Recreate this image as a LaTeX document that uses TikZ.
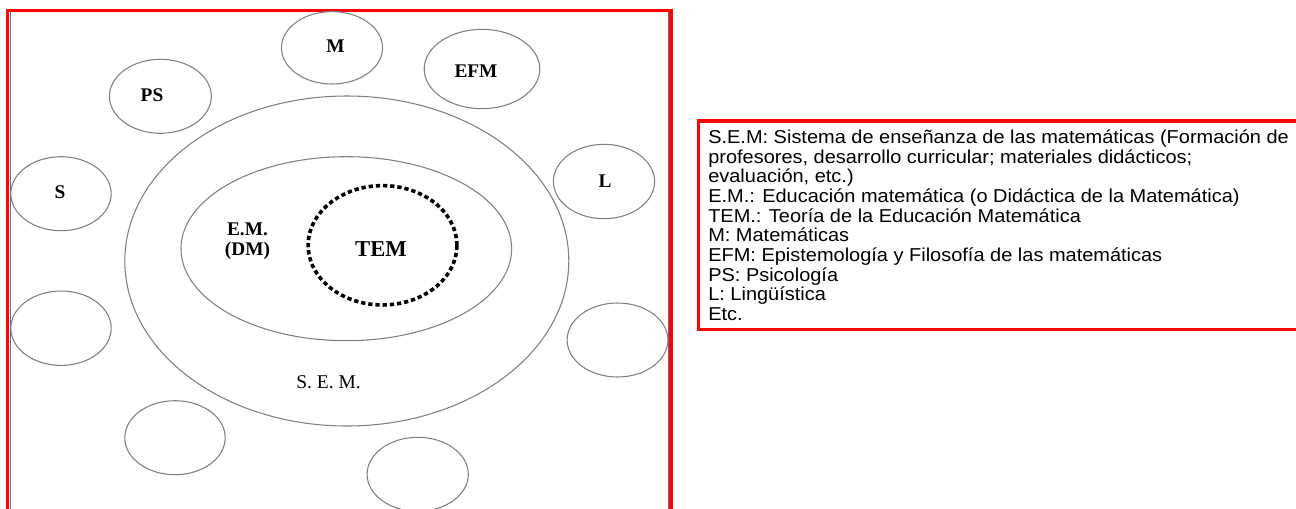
\documentclass[tikz,border=0pt]{standalone}
\usepackage{fontspec}
\setmainfont{Liberation Serif}
\newfontfamily\legendfont[FakeStretch=1.07]{Liberation Sans}
\usetikzlibrary{shapes.geometric}
\begin{document}
\begin{tikzpicture}[x=0.75pt,y=-0.75pt,
  bub/.style={ellipse,draw=black!50,line width=0.8pt,inner sep=0pt},
  lab/.style={inner sep=0pt,font=\fontsize{14.5pt}{14.6pt}\selectfont\bfseries},
  leg/.style={anchor=base west,inner sep=0pt,font=\legendfont\fontsize{14pt}{14.8pt}\selectfont},
  frame/.style={draw=red,line width=2.3pt},
  innerline/.style={draw=blue!40!black!60,line width=0.6pt}]
\useasboundingbox[fill=white] (0,0) rectangle (1296,508);
% frame of the diagram
\draw[frame] (7.7,520) -- (7.7,10.3) -- (671,10.3) -- (671,520);
\draw[innerline] (10.2,12) -- (10.2,520);
\draw[innerline] (668.7,12) -- (668.7,520);
% big ellipses
\node[bub,minimum width=333pt,minimum height=247.5pt] (sem) at (346.8,261) {};
\node[bub,minimum width=248pt,minimum height=138pt] (em) at (346.3,248.7) {};
\node[ellipse,draw=black,line width=2.7pt,dash pattern=on 3.2pt off 2.2pt,inner sep=0pt,
      minimum width=111.5pt,minimum height=89.5pt] (tem) at (382.5,245.3) {};
% surrounding bubbles
\node[bub,minimum width=75.8pt,minimum height=54.3pt] (m) at (332,47.8) {};
\node[bub,minimum width=86.7pt,minimum height=59.5pt] (efm) at (482,69) {};
\node[bub,minimum width=76.4pt,minimum height=55.5pt] (ps) at (160.4,96.3) {};
\node[bub,minimum width=75.3pt,minimum height=55.5pt] (s) at (61,193.7) {};
\node[bub,minimum width=75.9pt,minimum height=55.8pt] (l) at (604,181.5) {};
\node[bub,minimum width=75.3pt,minimum height=55.8pt] (e1) at (61,328.2) {};
\node[bub,minimum width=75.6pt,minimum height=55.5pt] (e2) at (617.5,340) {};
\node[bub,minimum width=75.3pt,minimum height=55.5pt] (b1) at (175,437.7) {};
\node[bub,minimum width=75.9pt,minimum height=55.5pt] (b2) at (417.7,474.3) {};
% labels
\node[lab] (tm) at (335.5,46) {M};
\node[lab] (tefm) at (476,70.7) {EFM};
\node[lab] (tps) at (152,95) {PS};
\node[lab] (ts) at (60,192.3) {S};
\node[lab] (tl) at (605,181) {L};
\node[lab,align=center] (tem1) at (247.5,241) {E.M.\\(DM)};
\node[inner sep=0pt,font=\fontsize{17pt}{18pt}\selectfont\bfseries] (ttem) at (381,249) {TEM};
\node[inner sep=0pt,font=\fontsize{14.6pt}{15pt}\selectfont] (tsem) at (328.6,382) {S. E. M.};
% legend
\draw[frame] (698.3,121) rectangle (1310,329.5);
\node[leg] (lg1) at (708,143.3) {S.E.M: Sistema de enseñanza de las matemáticas (Formación de};
\node[leg] (lg2) at (708,163.0) {profesores, desarrollo curricular; materiales didácticos;};
\node[leg] (lg3) at (708,182.7) {evaluación, etc.)};
\node[leg] (lg4) at (708,202.4) {E.M.: Educación matemática (o Didáctica de la Matemática)};
\node[leg] (lg5) at (708,222.1) {TEM.: Teoría de la Educación Matemática};
\node[leg] (lg6) at (708,241.8) {M: Matemáticas};
\node[leg] (lg7) at (708,261.5) {EFM: Epistemología y Filosofía de las matemáticas};
\node[leg] (lg8) at (708,281.2) {PS: Psicología};
\node[leg] (lg9) at (708,300.9) {L: Lingüística};
\node[leg] (lg10) at (708,320.6) {Etc.};
\end{tikzpicture}
\end{document}
